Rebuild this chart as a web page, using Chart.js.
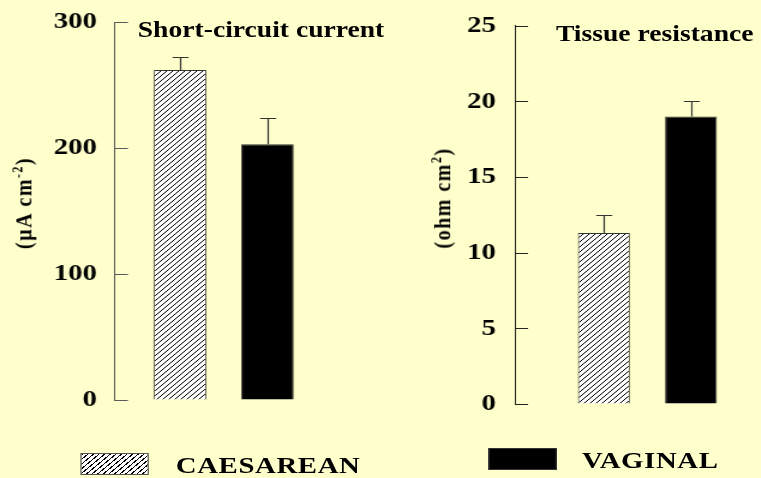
<!DOCTYPE html>
<html>
<head>
<meta charset="utf-8">
<script src="https://cdn.jsdelivr.net/npm/chart.js@4"></script>
<style>
  html, body { margin:0; padding:0; background:#FFFFCC; overflow:hidden; width:761px; height:478px; }
  #wrap { position:absolute; left:0; top:0; width:634.2px; height:478px; transform:scaleX(1.2); transform-origin:0 0; }
  canvas { position:absolute; top:0; }
  .t { position:absolute; font-family:"Liberation Serif", "Times New Roman", serif; font-weight:bold; color:#000; white-space:nowrap; }
  .title { font-size:23px; line-height:23px; }
  .leg { font-size:24px; line-height:24px; letter-spacing:0.5px; }
  .ytitle { font-size:20px; line-height:20px; letter-spacing:1.5px; transform:translate(-50%,-50%) rotate(-90deg); }
  .ytitle sup { font-size:0.6em; vertical-align:0.6em; line-height:0; }
  .box { position:absolute; box-sizing:border-box; }
</style>
</head>
<body>
<div id="wrap">
  <canvas id="c1" width="340" height="478" style="left:0px"></canvas>
  <canvas id="c2" width="320" height="478" style="left:340px"></canvas>
  <div class="t title" style="left:114.8px; top:18.4px;">Short-circuit current</div>
  <div class="t title" style="left:463.3px; top:22.4px;">Tissue resistance</div>
  <div class="t ytitle" style="left:19.2px; top:203px;">(µA cm<sup>-2</sup>)</div>
  <div class="t ytitle" style="left:368px; top:197.5px;">(ohm cm<sup>2</sup>)</div>
  <div class="box" style="left:66.7px; top:452.7px; width:57.5px; height:22px; border:1px solid #555; background:repeating-linear-gradient(135deg, #000 0 0.9px, #fff 0.9px 3.3px);"></div>
  <div class="t leg" style="left:146.5px; top:453.2px;">CAESAREAN</div>
  <div class="box" style="left:406.7px; top:448px; width:57.5px; height:22px; background:#000; border:1px solid #333;"></div>
  <div class="t leg" style="left:485px; top:448.2px;">VAGINAL</div>
</div>
<script>
// ---- data ----
const categories = ['CAESAREAN', 'VAGINAL'];
const sccMean = [262, 203];      // short-circuit current, µA cm-2
const sccErr  = [10, 21];
const resMean = [11.3, 19.0];    // tissue resistance, ohm cm2
const resErr  = [1.2, 1.0];
const sccTicks = [0, 100, 200, 300];
const resTicks = [0, 5, 10, 15, 20, 25];

Chart.defaults.font.family = '"Liberation Serif", "Times New Roman", serif';

function makeHatch() {
  const n = 5;
  const c = document.createElement('canvas');
  c.width = n; c.height = n;
  const g = c.getContext('2d');
  g.fillStyle = '#fff'; g.fillRect(0, 0, n, n);
  g.strokeStyle = '#000'; g.lineWidth = 1;
  g.beginPath();
  g.moveTo(0, n); g.lineTo(n, 0);
  g.moveTo(-1, 1); g.lineTo(1, -1);
  g.moveTo(n - 1, n + 1); g.lineTo(n + 1, n - 1);
  g.stroke();
  return g.createPattern(c, 'repeat');
}

const errorBars = {
  id: 'errorBars',
  afterDatasetsDraw(chart, args, opts) {
    const ctx = chart.ctx, y = chart.scales.y;
    chart.data.datasets.forEach((ds, i) => {
      const bar = chart.getDatasetMeta(i).data[0];
      const top = Math.round(y.getPixelForValue(ds.data[0] + ds.errors[0])) + 0.5;
      const x = Math.round(bar.x) + 0.5;
      ctx.save();
      ctx.strokeStyle = opts.color; ctx.lineWidth = 1.2;
      ctx.beginPath();
      ctx.moveTo(x, bar.y); ctx.lineTo(x, top);
      ctx.moveTo(x - opts.cap / 2, top); ctx.lineTo(x + opts.cap / 2, top);
      ctx.stroke();
      ctx.restore();
    });
  }
};

const innerTicks = {
  id: 'innerTicks',
  afterDraw(chart, args, opts) {
    const ctx = chart.ctx, y = chart.scales.y, left = chart.chartArea.left;
    ctx.save();
    ctx.strokeStyle = opts.color; ctx.lineWidth = 1;
    ctx.beginPath();
    y.ticks.forEach(t => {
      const py = Math.round(y.getPixelForValue(t.value)) + 0.5;
      ctx.moveTo(Math.round(left), py); ctx.lineTo(left + opts.len, py);
    });
    ctx.stroke();
    ctx.restore();
  }
};

function makeChart(id, means, errs, ticks, geo) {
  const hatch = makeHatch();
  return new Chart(document.getElementById(id), {
    type: 'bar',
    data: {
      labels: [''],
      datasets: [
        { label: categories[0], data: [means[0]], errors: [errs[0]], backgroundColor: hatch, borderColor: '#333', borderWidth: 1 },
        { label: categories[1], data: [means[1]], errors: [errs[1]], backgroundColor: '#000', borderColor: '#333', borderWidth: 1 }
      ]
    },
    options: {
      responsive: false,
      animation: false,
      devicePixelRatio: 1,
      categoryPercentage: geo.cat,
      barPercentage: geo.bar,
      layout: { padding: { left: 0, top: geo.top, right: geo.right, bottom: geo.bottom } },
      plugins: {
        legend: { display: false },
        tooltip: { enabled: false },
        errorBars: { color: '#333', cap: 13.3 },
        innerTicks: { color: geo.axis, len: 10.8 }
      },
      scales: {
        x: { display: false },
        y: {
          min: ticks[0], max: ticks[ticks.length - 1],
          afterBuildTicks: s => { s.ticks = ticks.map(v => ({ value: v })); },
          afterFit: s => { s.width = geo.yw; s.paddingTop = 0; s.paddingBottom = 0; },
          grid: { display: true, drawOnChartArea: false, drawTicks: false },
          border: { display: true, color: geo.axis, width: 1 },
          ticks: { color: '#000', padding: geo.pad, font: { size: 24, weight: 'bold' } }
        }
      }
    },
    plugins: [errorBars, innerTicks]
  });
}

makeChart('c1', sccMean, sccErr, sccTicks, { yw: 95.83, pad: 15, top: 22, bottom: 78, right: 62.9, cat: 0.804, bar: 0.6, axis: '#5a5a5a' });
makeChart('c2', resMean, resErr, resTicks, { yw: 89.2, pad: 15.9, top: 25.7, bottom: 74, right: 10.2, cat: 0.658, bar: 0.596, axis: '#222' });
</script>
</body>
</html>
